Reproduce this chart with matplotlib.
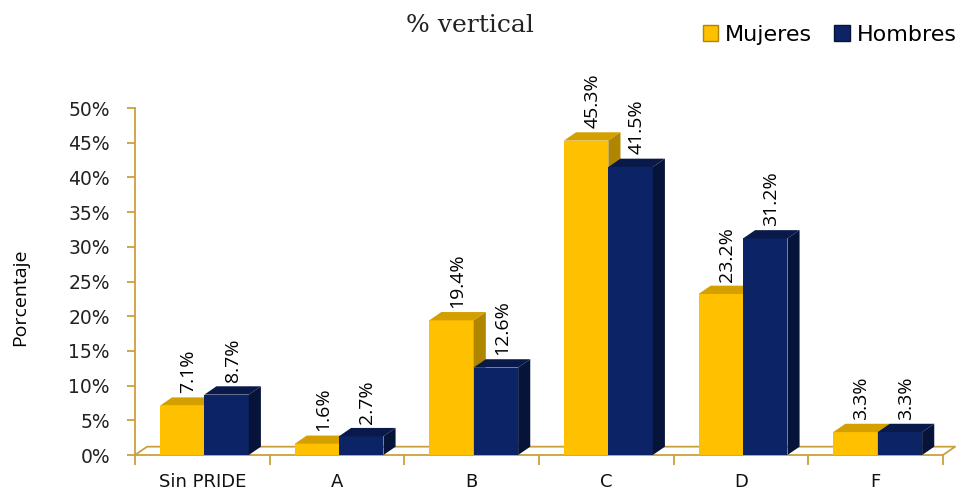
import matplotlib
matplotlib.use("Agg")
import matplotlib.pyplot as plt
from matplotlib.patches import Polygon, Patch
import numpy as np

# datos
categorias = ["Sin PRIDE", "A", "B", "C", "D", "F"]
mujeres = [7.1, 1.6, 19.4, 45.3, 23.2, 3.3]
hombres = [8.7, 2.7, 12.6, 41.5, 31.2, 3.3]

oro = "#FFC000"
oro_top = "#D4A000"
oro_lado = "#B08600"
azul = "#0C2466"
azul_top = "#09194A"
azul_lado = "#061439"
eje = "#C9A03C"

fig = plt.figure(figsize=(9.65, 4.9), dpi=100)
ax = fig.add_axes([135 / 965, 35 / 490, (943 - 135) / 965, (455 - 108) / 490])

x = np.arange(len(categorias))
w = 0.33
dx = 0.09   # profundidad en x (datos)
dy = 1.2    # profundidad en y (datos)


def barra3d(xc, h, c_front, c_top, c_side):
    x0, x1 = xc - w / 2, xc + w / 2
    ax.bar(xc, h, width=w, color=c_front, edgecolor="none", zorder=3)
    ax.add_patch(Polygon([(x0, h), (x0 + dx, h + dy), (x1 + dx, h + dy), (x1, h)],
                         closed=True, facecolor=c_top, edgecolor="none", zorder=3))
    ax.add_patch(Polygon([(x1, 0), (x1 + dx, dy), (x1 + dx, h + dy), (x1, h)],
                         closed=True, facecolor=c_side, edgecolor="none", zorder=3,
                         clip_on=False))


def etiqueta(xc, h):
    ax.text(xc + dx / 2, h + dy + 0.6, f"{h:.1f}%", rotation=90, ha="center", va="bottom",
            fontsize=14, family="Open Sans", color="black", zorder=5)


# piso
xl, xr = -0.5, len(categorias) - 0.5
ax.plot([xl, xl + dx, xr + dx, xr], [0, dy, dy, 0], color=eje, lw=1.3, clip_on=False, zorder=2)

for i in range(len(categorias)):
    xm = x[i] - 0.15
    xh = x[i] + 0.18
    barra3d(xm, mujeres[i], oro, oro_top, oro_lado)
    barra3d(xh, hombres[i], azul, azul_top, azul_lado)
    etiqueta(xm, mujeres[i])
    etiqueta(xh, hombres[i])

ax.set_xlim(xl, xr)
ax.set_ylim(0, 50)
ax.set_yticks(np.arange(0, 51, 5))
ax.set_yticklabels([f"{v}%" for v in range(0, 51, 5)], fontsize=13.5, color="#222222")
ax.set_xticks(x)
ax.set_xticklabels(categorias, fontsize=13, color="#111111")
ax.set_xticks(np.arange(xl, xr + 0.01, 1), minor=True)
ax.tick_params(axis="x", which="major", length=0, pad=13)
ax.tick_params(axis="x", which="minor", length=7, color=eje, width=1.3, direction="out")
ax.tick_params(axis="y", length=6, color=eje, width=1.3, direction="out", pad=12)

for s in ["top", "right"]:
    ax.spines[s].set_visible(False)
ax.spines["left"].set_color(eje)
ax.spines["bottom"].set_color(eje)
ax.spines["left"].set_linewidth(1.3)
ax.spines["bottom"].set_linewidth(1.3)

fig.text(20 / 965, 1 - 297 / 490, "Porcentaje", rotation=90, ha="center", va="center",
         fontsize=14, family="Open Sans")
fig.text(470 / 965, 1 - 25 / 490, "% vertical", ha="center", va="center",
         fontsize=18, family="DejaVu Serif", color="#222222")

handles = [Patch(facecolor=oro, edgecolor=oro_lado), Patch(facecolor=azul, edgecolor=azul_lado)]
fig.legend(handles, ["Mujeres", "Hombres"], loc="upper right", bbox_to_anchor=(1.012, 0.99),
           ncol=2, frameon=False, fontsize=16, handlelength=0.7, handleheight=0.7,
           handletextpad=0.3, columnspacing=1.0)

fig.savefig("out.png", dpi=100)
